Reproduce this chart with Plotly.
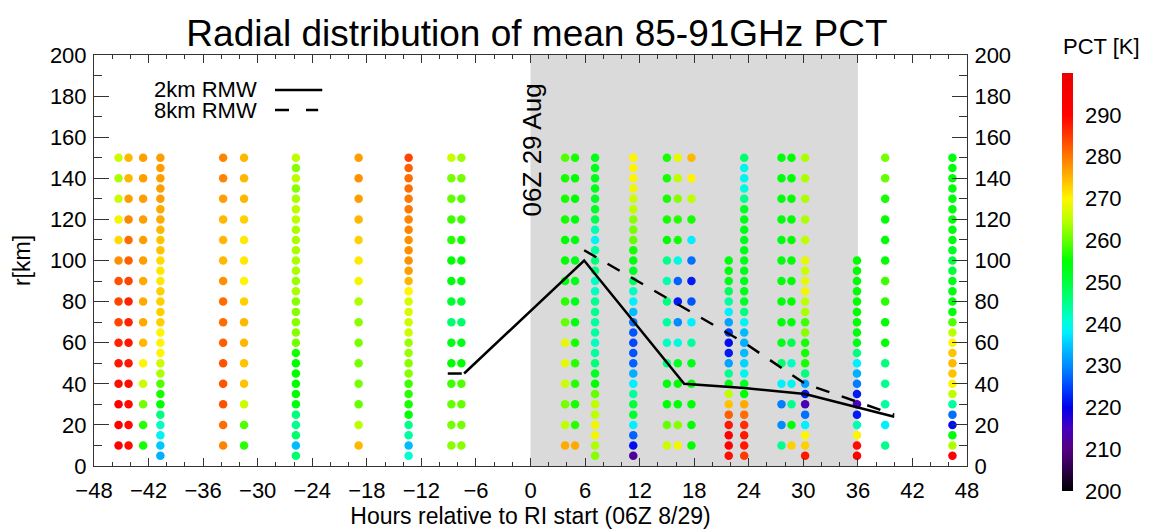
import plotly.graph_objects as go

# ---------------- data ----------------
# radii (km) sampled in each column
R_SPARSE = [150, 140, 130, 120, 110, 100, 90, 80, 70, 60, 50, 40, 30, 20, 10]
R_DENSE = [150, 145, 140, 135, 130, 125, 120, 115, 110, 105, 100, 95, 90, 85, 80,
           75, 70, 65, 60, 55, 50, 45, 40, 35, 30, 25, 20, 15, 10, 5]
R_DENSE_LOW = [100, 95, 90, 85, 80, 75, 70, 65, 60, 55, 50, 45, 40, 35, 30, 25, 20, 15, 10, 5]
R_MIXED = [150, 140, 130, 120, 110, 100, 95, 90, 85, 80, 75, 70, 65, 60, 55, 50,
           45, 40, 35, 30, 25, 20, 15, 10, 5]

# overpass times (hours relative to RI start)
times = [-45.3, -44.2, -42.6, -40.7, -33.8, -31.5, -25.8, -18.9, -13.4, -8.7, -7.6,
         3.8, 4.9, 7.1, 11.3, 15.0, 16.2, 17.7, 21.8, 23.5, 27.6, 28.7, 30.2, 35.9,
         39.0, 46.4]
radii_kind = ["s", "s", "s", "d", "s", "s", "d", "s", "d", "s", "s",
              "s", "s", "d", "d", "s", "s", "s", "l", "d", "s", "s", "m", "l",
              "s", "d"]

# mean 85-91 GHz PCT (K) per column, outer radius first
pct_c01 = [266, 264, 266, 269, 272, 278, 283, 284, 284, 287, 288, 289, 290, 290, 290]
pct_c02 = [275, 275, 277, 279, 281, 282, 284, 287, 287, 288, 288, 289, 289, 289, 289]
pct_c03 = [277, 277, 277, 277, 277, 277, 276, 276, 276, 275, 270, 266, 261, 257, 256]
pct_c04 = [277, 277, 277, 277, 277, 276, 276, 275, 274, 274, 272, 271, 271, 273, 273,
           273, 273, 270, 270, 270, 266, 264, 259, 256, 255, 246, 242, 239, 235, 233]
pct_c05 = [279, 279, 277, 275, 275, 275, 278, 281, 281, 282, 283, 283, 283, 281, 279]
pct_c06 = [275, 275, 275, 273, 271, 271, 270, 273, 275, 275, 274, 274, 266, 259, 257]
pct_c07 = [265, 262, 265, 262, 264, 265, 265, 264, 264, 264, 264, 264, 263, 264, 262,
           262, 262, 262, 261, 256, 255, 255, 255, 255, 254, 246, 245, 247, 234, 247]
pct_c08 = [277, 278, 277, 275, 273, 271, 269, 264, 262, 261, 261, 261, 260, 265, 275]
pct_c09 = [284, 282, 281, 281, 280, 280, 279, 279, 278, 278, 278, 277, 275, 270, 267,
           267, 266, 266, 263, 263, 262, 262, 258, 257, 256, 255, 245, 244, 234, 241]
pct_c10 = [266, 261, 260, 258, 257, 255, 254, 251, 247, 253, 255, 258, 260, 261, 262]
pct_c11 = [263, 261, 259, 258, 256, 255, 254, 251, 247, 253, 255, 259, 260, 261, 262]
pct_c12 = [259, 256, 256, 256, 255, 255, 254, 257, 260, 268, 268, 266, 261, 265, 276]
pct_c13 = [256, 255, 255, 254, 254, 253, 253, 253, 254, 256, 257, 257, 256, 257, 276]
pct_c14 = [253, 253, 253, 253, 252, 252, 249, 243, 239, 244, 246, 246, 242, 242, 245,
           245, 244, 244, 242, 244, 246, 252, 255, 260, 265, 265, 269, 269, 264, 262]
pct_c15 = [270, 270, 270, 269, 266, 265, 262, 261, 260, 256, 254, 252, 248, 242, 238,
           234, 228, 226, 225, 226, 227, 233, 238, 244, 250, 251, 238, 227, 221, 212]
pct_c16 = [256, 256, 256, 256, 255, 245, 243, 246, 244, 242, 246, 254, 255, 260, 266]
pct_c17 = [268, 265, 262, 257, 256, 240, 227, 222, 230, 240, 252, 255, 255, 262, 269]
pct_c18 = [275, 270, 265, 256, 238, 228, 222, 226, 238, 244, 253, 255, 255, 255, 255]
pct_c19 = [254, 254, 253, 248, 244, 238, 232, 224, 221, 222, 232, 245, 253, 265, 274,
           282, 288, 290, 290, 289]
pct_c20 = [247, 239, 239, 240, 245, 252, 253, 253, 253, 253, 253, 253, 253, 253, 252,
           246, 239, 234, 233, 234, 236, 239, 252, 255, 276, 281, 286, 288, 288, 285]
pct_c21 = [254, 254, 254, 254, 254, 254, 254, 254, 254, 253, 247, 238, 229, 230, 245]
pct_c22 = [255, 255, 255, 255, 255, 255, 255, 255, 254, 249, 242, 239, 245, 254, 273]
pct_c23 = [264, 264, 264, 264, 265, 268, 266, 268, 269, 265, 264, 258, 262, 256, 256,
           256, 246, 232, 222, 214, 228, 238, 270, 273, 288]
pct_c24 = [255, 255, 255, 255, 255, 255, 255, 254, 253, 246, 238, 233, 229, 222, 215,
           222, 243, 270, 289, 290]
pct_c25 = [261, 260, 256, 255, 255, 255, 258, 257, 255, 255, 246, 245, 244, 238, 245]
pct_c26 = [254, 254, 254, 254, 254, 254, 254, 254, 254, 252, 250, 250, 253, 254, 254,
           254, 259, 265, 270, 274, 275, 274, 270, 265, 244, 228, 221, 254, 264, 290]

pct_columns = [pct_c01, pct_c02, pct_c03, pct_c04, pct_c05, pct_c06, pct_c07, pct_c08,
               pct_c09, pct_c10, pct_c11, pct_c12, pct_c13, pct_c14, pct_c15, pct_c16,
               pct_c17, pct_c18, pct_c19, pct_c20, pct_c21, pct_c22, pct_c23, pct_c24,
               pct_c25, pct_c26]

# radius of maximum wind
rmw2_t = [-7.3, 5.9, 16.9, 23.5, 30.2, 40.0]
rmw2_r = [45, 100, 40, 38, 35, 24]
rmw8_t = [-9.1, -7.3, None, 5.9, 23.5, 30.2, 40.0]
rmw8_r = [45, 45, None, 105, 60, 40, 25]

X_TICKS = [-48, -42, -36, -30, -24, -18, -12, -6, 0, 6, 12, 18, 24, 30, 36, 42, 48]
Y_TICKS = [0, 20, 40, 60, 80, 100, 120, 140, 160, 180, 200]
CB_TICKS = [200, 210, 220, 230, 240, 250, 260, 270, 280, 290]
RI_WINDOW = [0, 36]

# ---------------- build ----------------
radii_map = {"s": R_SPARSE, "d": R_DENSE, "l": R_DENSE_LOW, "m": R_MIXED}
xs, ys, cs = [], [], []
for t, k, p in zip(times, radii_kind, pct_columns):
    rr = radii_map[k]
    xs += [t] * len(rr)
    ys += rr
    cs += p

cmin, cmax = 200, 300
stops = [
    (200, "rgb(0,0,0)"), (205, "rgb(45,0,70)"), (210, "rgb(85,0,130)"),
    (215, "rgb(70,0,190)"), (220, "rgb(0,0,235)"), (225, "rgb(0,70,255)"),
    (230, "rgb(0,140,255)"), (235, "rgb(0,200,255)"), (238, "rgb(0,240,255)"),
    (241, "rgb(0,255,210)"), (245, "rgb(0,255,140)"), (250, "rgb(0,255,60)"),
    (255, "rgb(0,255,0)"), (260, "rgb(100,255,0)"), (265, "rgb(190,255,0)"),
    (270, "rgb(255,245,0)"), (274, "rgb(255,195,0)"), (278, "rgb(255,145,0)"),
    (282, "rgb(255,95,0)"), (286, "rgb(255,45,0)"), (290, "rgb(255,0,0)"),
    (300, "rgb(235,0,0)"),
]
colorscale = [[(v - cmin) / (cmax - cmin), c] for v, c in stops]

FONT = "Liberation Sans, Arial, Helvetica, sans-serif"
AX = "#333333"

fig = go.Figure()

fig.add_trace(go.Scatter(
    x=xs, y=ys, mode="markers",
    marker=dict(size=8.5, color=cs, colorscale=colorscale, cmin=cmin, cmax=cmax,
                line=dict(width=0),
                colorbar=dict(
                    x=1.1088, xanchor="left", y=-0.061, yanchor="bottom",
                    len=1.017, lenmode="fraction", thickness=11,
                    xpad=0, ypad=0,
                    outlinewidth=0, tickvals=CB_TICKS,
                    ticks="outside", ticklen=8, tickcolor="rgba(0,0,0,0)",
                    tickfont=dict(size=22, color="black", family=FONT))),
    showlegend=False, hoverinfo="skip",
))

fig.add_trace(go.Scatter(
    x=rmw2_t, y=rmw2_r, mode="lines", yaxis="y2",
    line=dict(color="black", width=2.5), showlegend=False, hoverinfo="skip"))
fig.add_trace(go.Scatter(
    x=rmw8_t, y=rmw8_r, mode="lines", yaxis="y2", connectgaps=False,
    line=dict(color="black", width=2.5, dash="14px,13px"),
    showlegend=False, hoverinfo="skip"))

# RI window shading
fig.add_shape(type="rect", xref="x", yref="paper", x0=RI_WINDOW[0], x1=RI_WINDOW[1],
              y0=0, y1=1, fillcolor="rgb(218,218,218)", line=dict(width=0), layer="below")

# legend
fig.add_annotation(x=-29.9, y=183, xref="x", yref="y", text="2km RMW", showarrow=False,
                   xanchor="right", yanchor="middle", font=dict(size=22, color="black"))
fig.add_annotation(x=-29.9, y=173.2, xref="x", yref="y", text="8km RMW", showarrow=False,
                   xanchor="right", yanchor="middle", font=dict(size=22, color="black"))
fig.add_shape(type="line", xref="x", yref="y", x0=-28.1, x1=-22.9, y0=183, y1=183,
              line=dict(color="black", width=2.5))
fig.add_shape(type="line", xref="x", yref="y", x0=-28.1, x1=-23.35, y0=173.2, y1=173.2,
              line=dict(color="black", width=2.5, dash="14px,17px"))

# date marker
fig.add_annotation(x=0.15, y=154, xref="x", yref="y", text="06Z 29 Aug", textangle=-90,
                   showarrow=False, xanchor="center", yanchor="middle",
                   font=dict(size=26, color="black"))

# colorbar title
fig.add_annotation(x=1.1546, y=1.0195, xref="paper", yref="paper", text="PCT [K]",
                   showarrow=False, xanchor="center", yanchor="middle",
                   font=dict(size=22, color="black"))

yax_common = dict(range=[0, 200], tickmode="array", tickvals=Y_TICKS,
                  ticks="inside", ticklen=15, tickwidth=1, tickcolor=AX,
                  minor=dict(tick0=0, dtick=10, ticks="inside", ticklen=8,
                             tickwidth=1, tickcolor=AX),
                  showline=True, linecolor=AX, linewidth=1, showgrid=False,
                  zeroline=False, tickfont=dict(size=22, color="black"),
                  ticklabelstandoff=2, fixedrange=True, automargin=False)

# the page adds an 8px body margin, so the figure is 8px smaller than the window
fig.update_layout(
    width=1142, height=521,
    margin=dict(l=86, r=183, t=47, b=63),
    paper_bgcolor="white", plot_bgcolor="white",
    font=dict(family=FONT, color="black"),
    title=dict(text="Radial distribution of mean 85-91GHz PCT",
               x=0.4632, xanchor="center", xref="container",
               y=0.952, yanchor="middle", yref="container",
               font=dict(size=37, color="black", family=FONT)),
    xaxis=dict(range=[-48, 48], tickmode="array", tickvals=X_TICKS,
               ticks="inside", ticklen=8, tickwidth=1, tickcolor=AX,
               minor=dict(tick0=-48, dtick=2, ticks="inside", ticklen=4,
                          tickwidth=1, tickcolor=AX),
               showline=True, linecolor=AX, linewidth=1, mirror="ticks",
               showgrid=False, zeroline=False, automargin=False,
               tickfont=dict(size=22, color="black"), ticklabelstandoff=5,
               title=dict(text="Hours relative to RI start (06Z 8/29)",
                          font=dict(size=23, color="black"), standoff=0)),
    yaxis=dict(**yax_common, side="left",
               title=dict(text="r[km]", font=dict(size=23, color="black"), standoff=12)),
    yaxis2=dict(**yax_common, side="right", overlaying="y", anchor="x"),
)

fig.write_html("out.html")
